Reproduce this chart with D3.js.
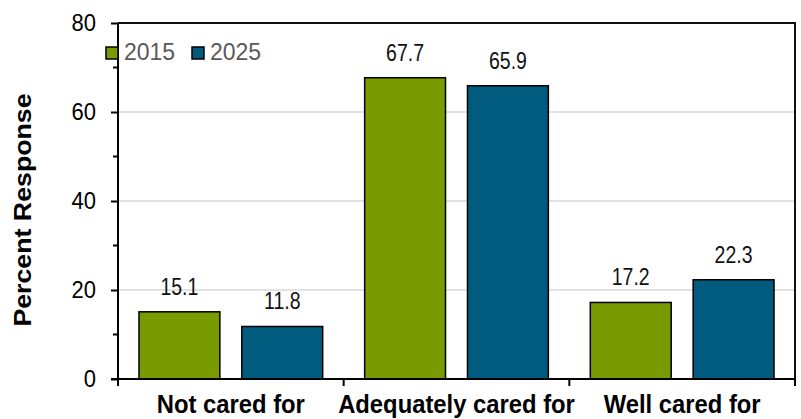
<!DOCTYPE html>
<html><head><meta charset="utf-8">
<script src="https://cdn.jsdelivr.net/npm/d3@7"></script>
<style>body{margin:0;background:#fff}svg{display:block}text{font-family:Arial,"Liberation Sans",sans-serif}</style>
</head><body>
<script>
const categories = ["Not cared for", "Adequately cared for", "Well cared for"];
const seriesNames = ["2015", "2025"];
const values2015 = [15.1, 67.7, 17.2];
const values2025 = [11.8, 65.9, 22.3];
const yTicks = [0, 20, 40, 60, 80];
const yMinorTicks = [10, 30, 50, 70];
const colors = ["#7a9a01", "#005b7f"];
const yTitle = "Percent Response";

const W = 801, H = 419;
const m = {left: 118, right: 6, top: 23, bottom: 40};
const svg = d3.select("body").append("svg").attr("width", W).attr("height", H);

const x0 = d3.scaleBand().domain(categories).range([m.left, W - m.right]).padding(0);
const x1 = d3.scaleBand().domain(seriesNames).range([0, x0.bandwidth()]).paddingInner(0.2136).paddingOuter(0.204);
const y = d3.scaleLinear().domain([0, 80]).range([H - m.bottom, m.top]);

// gridlines
svg.append("g").selectAll("line").data(yTicks.filter(d => d > 0 && d < 80)).join("line")
  .attr("x1", m.left).attr("x2", W - m.right).attr("y1", d => y(d)).attr("y2", d => y(d))
  .attr("stroke", "#d9d9d9").attr("stroke-width", 1.5);

// frame top & right
svg.append("path")
  .attr("d", `M${m.left},${y(80)}H${W - m.right}V${y(0)}`)
  .attr("fill", "none").attr("stroke", "#111").attr("stroke-width", 2);

// bars
const data = categories.map((c, i) => ({cat: c, vals: [values2015[i], values2025[i]]}));
const g = svg.append("g").selectAll("g").data(data).join("g")
  .attr("transform", d => `translate(${x0(d.cat)},0)`);
g.selectAll("rect").data(d => d.vals.map((v, j) => ({s: seriesNames[j], v, j}))).join("rect")
  .attr("x", d => x1(d.s)).attr("width", x1.bandwidth())
  .attr("y", d => y(d.v)).attr("height", d => y(0) - y(d.v))
  .attr("fill", d => colors[d.j]).attr("stroke", "#000").attr("stroke-width", 1.5);
g.selectAll("text").data(d => d.vals.map((v, j) => ({s: seriesNames[j], v, j}))).join("text")
  .attr("transform", d => `translate(${x1(d.s) + x1.bandwidth() / 2},${y(d.v) - 17}) scale(1,1.27)`)
  .attr("text-anchor", "middle").attr("font-size", 19.5).attr("fill", "#111")
  .text(d => d.v.toFixed(1));

// y axis
const yAxis = svg.append("g").attr("transform", `translate(${m.left},0)`)
  .call(d3.axisLeft(y).tickValues(yTicks).tickSize(7).tickPadding(15).tickFormat(d3.format("d")));
yAxis.select(".domain").attr("stroke", "#000").attr("stroke-width", 2).attr("d", `M0,${y(80)}V${y(0) + 7}`);
yAxis.selectAll(".tick line").attr("stroke", "#000").attr("stroke-width", 2);
yAxis.selectAll(".tick text").attr("font-size", 22).attr("fill", "#000")
  .attr("transform", "scale(1,1.06)")
  .attr("font-family", "Arial, 'Liberation Sans', sans-serif");
svg.append("g").selectAll("line").data(yMinorTicks).join("line")
  .attr("x1", m.left - 5).attr("x2", m.left).attr("y1", d => y(d)).attr("y2", d => y(d))
  .attr("stroke", "#000").attr("stroke-width", 2);

// x axis
const xAxis = svg.append("g").attr("transform", `translate(0,${y(0)})`)
  .call(d3.axisBottom(x0).tickSize(0).tickPadding(0));
xAxis.select(".domain").attr("stroke", "#000").attr("stroke-width", 2).attr("d", `M${m.left - 7},0H${W - m.right}`);
xAxis.selectAll(".tick text").attr("font-size", 23.8).attr("font-weight", "bold").attr("fill", "#000")
  .attr("y", 0).attr("dy", 0)
  .attr("transform", "translate(0,34) scale(1,1.08)")
  .attr("font-family", "Arial, 'Liberation Sans', sans-serif");
const bounds = [...categories.map(c => x0(c)), x0(categories[2]) + x0.bandwidth()];
svg.append("g").selectAll("line").data(bounds).join("line")
  .attr("x1", d => d).attr("x2", d => d).attr("y1", y(0)).attr("y2", y(0) + 7)
  .attr("stroke", "#000").attr("stroke-width", 2);

// y title
svg.append("text").attr("transform", `translate(31,${(y(0) + y(80)) / 2 + 9}) rotate(-90) scale(1.1,1)`)
  .attr("text-anchor", "middle").attr("font-size", 24.3).attr("font-weight", "bold").attr("fill", "#000")
  .text(yTitle);

// legend
const leg = svg.append("g").selectAll("g").data(seriesNames).join("g")
  .attr("transform", (d, i) => `translate(${106 + i * 86},47)`);
leg.append("rect").attr("width", 12).attr("height", 12)
  .attr("fill", (d, i) => colors[i]).attr("stroke", "#000").attr("stroke-width", 1.5);
leg.append("text").attr("x", 18).attr("y", 13).attr("font-size", 23).attr("fill", "#595959").text(d => d);
</script>
</body></html>
